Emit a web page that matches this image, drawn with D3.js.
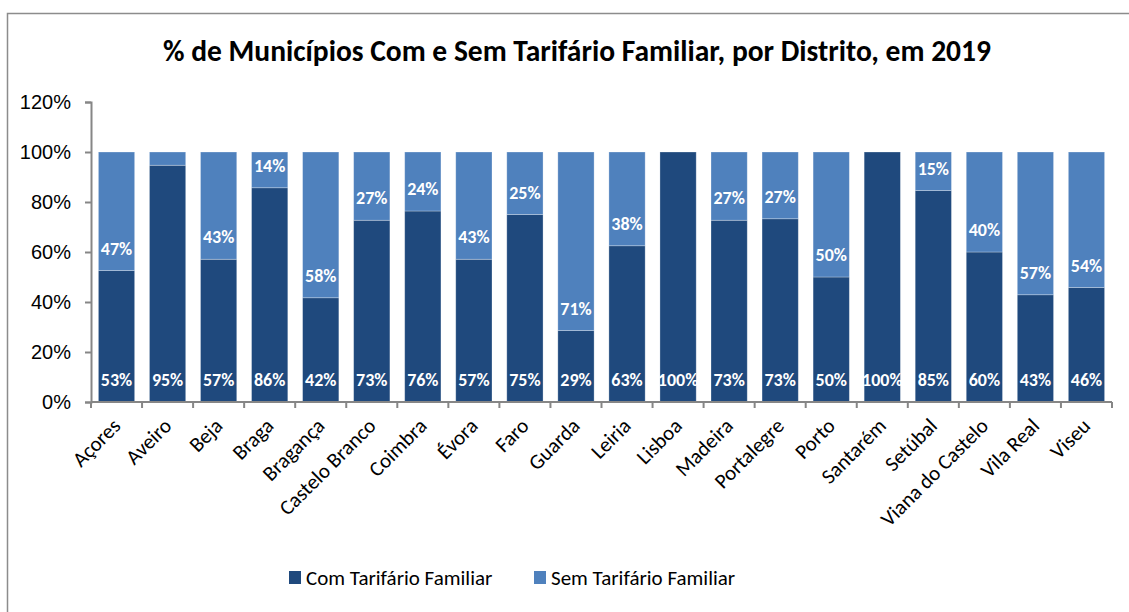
<!DOCTYPE html>
<html>
<head>
<meta charset="utf-8">
<script src="https://cdn.jsdelivr.net/npm/d3@7"></script>
<style>
  body { margin: 0; background: #fff; }
  svg { display: block; font-family: Carlito, "Open Sans", sans-serif; }
</style>
</head>
<body>
<svg id="chart" width="1129" height="612"></svg>
<script>
// Districts
const distritos = [
  "Açores", "Aveiro", "Beja", "Braga", "Bragança", "Castelo Branco", "Coimbra",
  "Évora", "Faro", "Guarda", "Leiria", "Lisboa", "Madeira", "Portalegre",
  "Porto", "Santarém", "Setúbal", "Viana do Castelo", "Vila Real", "Viseu"
];
// % of municipalities with family tariff
const comTarifario = [
  0.526, 0.947, 0.571, 0.857, 0.417, 0.727, 0.764, 0.571, 0.75, 0.286,
  0.625, 1.0, 0.727, 0.733, 0.5, 1.0, 0.846, 0.6, 0.429, 0.458
];
// % of municipalities without family tariff
const semTarifario = [
  0.474, 0.053, 0.429, 0.143, 0.583, 0.273, 0.236, 0.429, 0.25, 0.714,
  0.375, 0.0, 0.273, 0.267, 0.5, 0.0, 0.154, 0.4, 0.571, 0.542
];
const yTicks = [0, 0.2, 0.4, 0.6, 0.8, 1.0, 1.2];
const series = ["Com Tarifário Familiar", "Sem Tarifário Familiar"];
const colors = ["#1f497d", "#4f81bd"];

const svg = d3.select("#chart");
const axisColor = "#868686";

// outer frame
svg.append("rect")
  .attr("x", 7.5).attr("y", 13.5)
  .attr("width", 1130).attr("height", 610)
  .attr("fill", "none")
  .attr("stroke", "#8c8c8c")
  .attr("stroke-width", 1.5);

// Title
svg.append("text")
  .attr("x", 577)
  .attr("y", 61)
  .attr("text-anchor", "middle")
  .style("font-size", "29.5px")
  .style("font-weight", "bold")
  .text("% de Municípios Com e Sem Tarifário Familiar, por Distrito, em 2019");

const x = d3.scaleBand()
  .domain(distritos)
  .range([91, 1112])
  .paddingInner(0.29)
  .paddingOuter(0.145);

const y = d3.scaleLinear()
  .domain([0, 1.2])
  .range([402, 102]);

const rows = distritos.map((d, i) => ({ name: d, com: comTarifario[i], sem: semTarifario[i] }));
const stacked = d3.stack().keys(["com", "sem"])(rows);

// Bars
svg.append("g")
  .selectAll("g")
  .data(stacked)
  .join("g")
  .attr("fill", (d, i) => colors[i])
  .selectAll("rect")
  .data(d => d)
  .join("rect")
  .attr("x", d => x(d.data.name))
  .attr("y", d => y(d[1]))
  .attr("width", x.bandwidth())
  .attr("height", d => y(d[0]) - y(d[1]))
  .attr("stroke", "rgba(255,255,255,0.35)")
  .attr("stroke-width", 0.8);

// Data labels (inside base)
svg.append("g")
  .selectAll("g")
  .data(stacked)
  .join("g")
  .selectAll("text")
  .data(d => d.filter(p => (p[1] - p[0]) >= 0.1))
  .join("text")
  .attr("x", d => x(d.data.name) + x.bandwidth() / 2)
  .attr("y", d => y(d[0]) - 16)
  .attr("text-anchor", "middle")
  .attr("fill", "#fff")
  .style("font-size", "18px")
  .style("font-weight", "bold")
  .text(d => d3.format(".0%")(d[1] - d[0]));

// Y axis
const yAxis = svg.append("g")
  .attr("transform", "translate(91,0)")
  .call(d3.axisLeft(y).tickValues(yTicks).tickFormat(d3.format(".0%")).tickSize(6).tickPadding(14));
yAxis.select(".domain").attr("stroke", axisColor).attr("stroke-width", 2);
yAxis.selectAll(".tick line").attr("stroke", axisColor).attr("stroke-width", 2);
yAxis.selectAll("text").style("font-size", "20px").attr("fill", "#000");

// X axis line and ticks between categories
const step = x.step();
const xg = svg.append("g");
xg.append("line")
  .attr("x1", 91).attr("x2", 1112)
  .attr("y1", y(0)).attr("y2", y(0))
  .attr("stroke", axisColor).attr("stroke-width", 2);
xg.selectAll("line.tk")
  .data(d3.range(distritos.length + 1))
  .join("line")
  .attr("class", "tk")
  .attr("x1", i => 91 + i * step).attr("x2", i => 91 + i * step)
  .attr("y1", y(0)).attr("y2", y(0) + 6)
  .attr("stroke", axisColor).attr("stroke-width", 2);
xg.selectAll("text")
  .data(distritos)
  .join("text")
  .attr("transform", d => `translate(${x(d) + x.bandwidth() / 2},${y(0) + 20}) rotate(-45)`)
  .attr("text-anchor", "end")
  .attr("dy", "0.35em")
  .style("font-size", "21px")
  .text(d => d);

// Legend
const legend = svg.append("g");
const legendX = [289, 534];
series.forEach((s, i) => {
  legend.append("rect")
    .attr("x", legendX[i]).attr("y", 571)
    .attr("width", 12).attr("height", 13)
    .attr("fill", colors[i]);
  legend.append("text")
    .attr("x", legendX[i] + 17).attr("y", 585)
    .style("font-size", "21px")
    .text(s);
});
</script>
</body>
</html>
